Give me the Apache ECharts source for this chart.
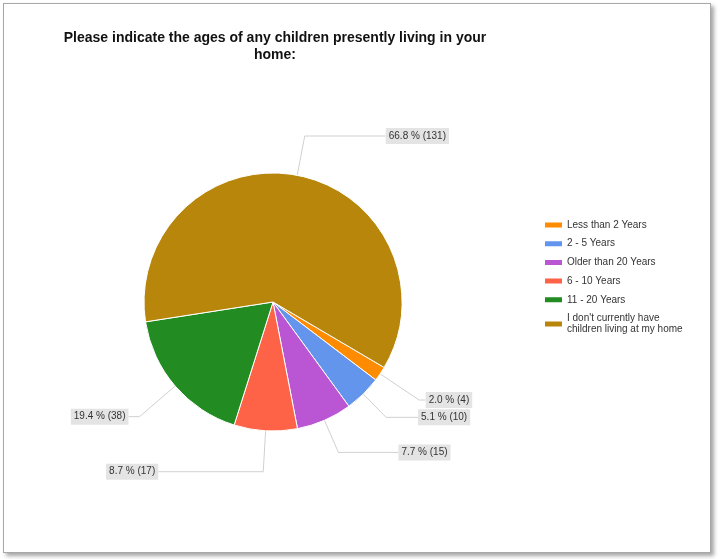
<!DOCTYPE html>
<html>
<head>
<meta charset="utf-8">
<script src="https://cdn.jsdelivr.net/npm/echarts@6/dist/echarts.min.js"></script>
<style>
  html, body { margin: 0; padding: 0; background: #ffffff; }
  #wrap { position: relative; width: 720px; height: 559px; overflow: hidden; }
  #frame { position: absolute; left: 3px; top: 3px; width: 706px; height: 548px;
           border: 1px solid #a8a8a8; box-shadow: 3px 3px 4px rgba(0,0,0,0.35); background: #fff; }
  #chart { position: absolute; left: 0; top: 0; width: 720px; height: 559px; }
</style>
</head>
<body>
<div id="wrap">
  <div id="frame"></div>
  <div id="chart"></div>
</div>
<script>
// ---- data ----
const titleText = "Please indicate the ages of any children presently living in your\nhome:";
const categories = [
  "Less than 2 Years",
  "2 - 5 Years",
  "Older than 20 Years",
  "6 - 10 Years",
  "11 - 20 Years",
  "I don't currently have children living at my home"
];
const counts = [4, 10, 15, 17, 38, 131];
const percents = [2.0, 5.1, 7.7, 8.7, 19.4, 66.8];
const colors = ["#FF8C00", "#6495ED", "#BA55D3", "#FF6347", "#228B22", "#B8860B"];

// ---- per-slice leader-line geometry (styling, not data) ----
const leaderLen  = [47, 32.5, 35, 41, 47, 40];
const leaderLen2 = [6.5, 32, 60, 105, 11, 81];

const chart = echarts.init(document.getElementById('chart'), null, { renderer: 'canvas' });

const seriesData = categories.map((name, i) => ({
  name: name,
  value: counts[i],
  itemStyle: { color: colors[i] },
  labelLine: { length: leaderLen[i], length2: leaderLen2[i] }
}));

chart.setOption({
  animation: false,
  backgroundColor: 'transparent',
  title: {
    text: titleText,
    left: 270,
    top: 24,
    textAlign: 'center',
    textStyle: {
      fontFamily: 'Liberation Sans, Arial, sans-serif',
      fontSize: 14,
      fontWeight: 'bold',
      color: '#111',
      lineHeight: 17.5
    }
  },
  legend: {
    orient: 'vertical',
    left: 543,
    top: 219.5,
    itemWidth: 19,
    itemHeight: 7,
    itemGap: 7.7,
    icon: 'rect',
    selectedMode: false,
    padding: 0,
    data: categories,
    textStyle: {
      fontFamily: 'Liberation Sans, Arial, sans-serif',
      fontSize: 10,
      lineHeight: 11,
      color: '#333',
      width: 120,
      overflow: 'break',
      padding: [0, 0, 0, -1]
    }
  },
  series: [{
    type: 'pie',
    center: [273, 302],
    radius: 129,
    startAngle: -30.5,
    clockwise: true,
    avoidLabelOverlap: false,
    silent: true,
    itemStyle: { borderColor: '#ffffff', borderWidth: 1 },
    label: {
      show: true,
      position: 'outside',
      distanceToLabelLine: 0,
      formatter: (p) => percents[p.dataIndex].toFixed(1) + ' % (' + counts[p.dataIndex] + ')',
      fontFamily: 'Liberation Sans, Arial, sans-serif',
      fontSize: 10,
      lineHeight: 10,
      color: '#333',
      backgroundColor: '#e4e4e4',
      padding: [3, 3, 3, 3]
    },
    labelLine: {
      show: true,
      smooth: false,
      lineStyle: { color: '#d0d0d0', width: 1 }
    },
    data: seriesData
  }]
});
</script>
</body>
</html>
